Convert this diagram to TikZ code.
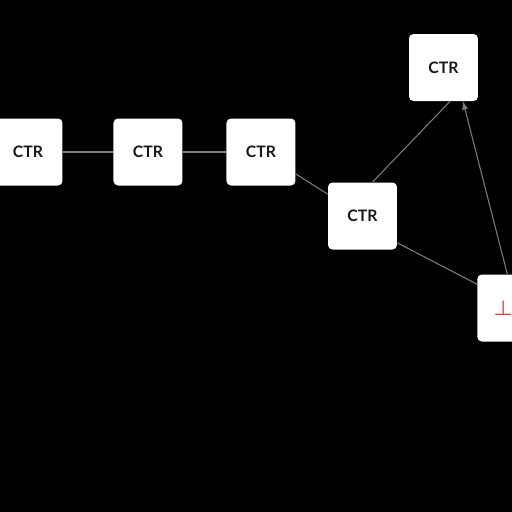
\documentclass[tikz,border=0pt]{standalone}
\usepackage{fontspec}
\setmainfont{Lato}
\usepackage{xcolor}
\usepackage{tikz}
\usetikzlibrary{shapes,arrows}

\definecolor{linkgray}{RGB}{125,125,125}
\definecolor{botred}{RGB}{225,60,60}

\begin{document}
\begin{tikzpicture}[x=0.02cm, y=-0.02cm, node distance=2.4cm, auto,
    ctrbox/.style={rectangle, fill=white, rounded corners=0.09cm, text centered,
        minimum width=1.38cm, minimum height=1.34cm, inner sep=0pt,
        font=\fontsize{9}{10.8}\selectfont\bfseries, text={black!90}},
    link/.style={draw, linkgray, line width=0.6pt},
    line/.style={link, ->, >=latex}]

    % Background
    \fill [black] (0,0) rectangle (512,512);
    \useasboundingbox (0,0) rectangle (512,512);

    % Boxes
    \node [ctrbox] at (28,152) (ctra) {CTR};
    \node [ctrbox, right of=ctra] (ctrb) {CTR};
    \node [ctrbox, right of=ctrb, node distance=2.26cm] (ctrc) {CTR};
    \node [ctrbox] at (362.5,216) (ctrd) {CTR};
    \node [ctrbox] at (443.5,67.5) (ctre) {CTR};
    \node [ctrbox, anchor=west, minimum width=1.4cm, inner xsep=0.33cm,
        text width=0.74cm, align=left, font=\large\boldmath, text=botred] at (477,308) (bot) {$\perp$};

    % Links
    \draw [link] (ctra) -- (ctrb);
    \draw [link] (ctrb) -- (ctrc);
    \draw [link] (ctrc) -- (ctrd);
    \draw [link] ([xshift=0.2cm]ctrd.north) -- ([xshift=0.13cm]ctre.south);
    \draw [link] ([yshift=0.14cm]ctrd.south east) -- ([yshift=-0.2cm]bot.north west);
    \draw [line] ([xshift=-0.1cm]bot.north) -- ([xshift=0.39cm]ctre.south);

\end{tikzpicture}
\end{document}
